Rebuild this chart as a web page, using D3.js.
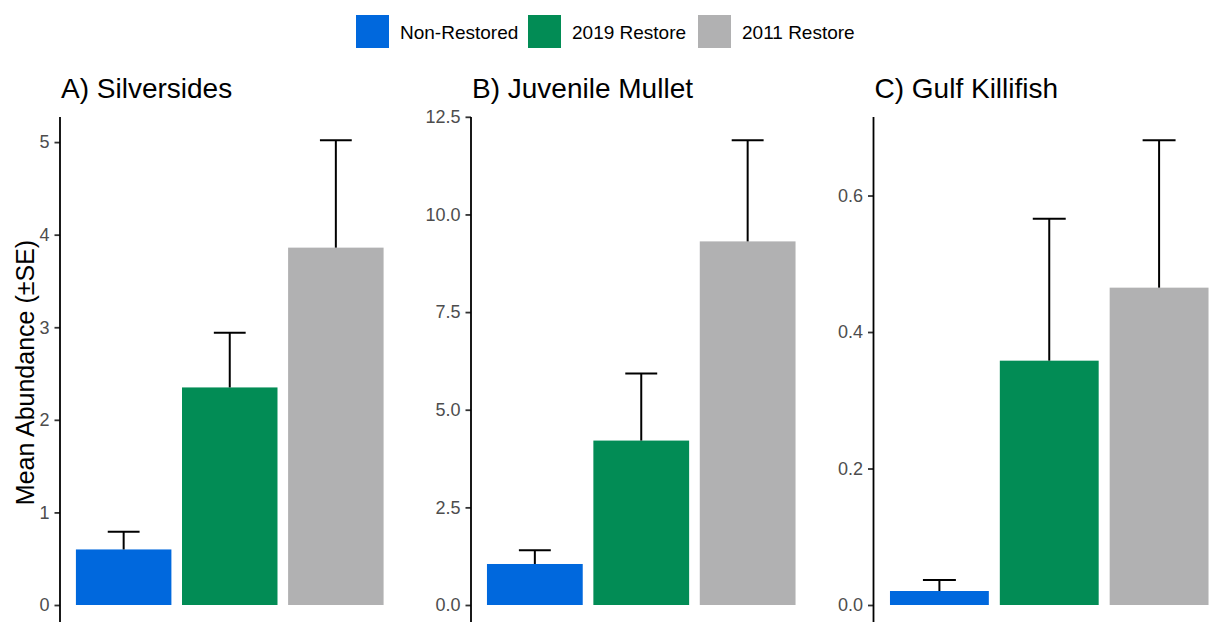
<!DOCTYPE html>
<html>
<head>
<meta charset="utf-8">
<script src="https://cdn.jsdelivr.net/npm/d3@7"></script>
<style>
  html, body { margin: 0; padding: 0; background: #fff; }
  svg { display: block; font-family: "Liberation Sans", Arial, sans-serif; }
</style>
</head>
<body>
<svg id="chart" width="1219" height="622"></svg>
<script>
// Sites compared in every panel
const sites = ["Non-Restored", "2019 Restore", "2011 Restore"];
const siteColors = ["#0068DD", "#028C55", "#B1B1B2"];

// Panel titles
const titles = ["A) Silversides", "B) Juvenile Mullet", "C) Gulf Killifish"];

// Mean abundance per site, and standard error
const silversidesMean = [0.60, 2.35, 3.86];
const silversidesSE   = [0.19, 0.59, 1.16];
const mulletMean      = [1.05, 4.21, 9.31];
const mulletSE        = [0.35, 1.72, 2.59];
const killifishMean   = [0.0205, 0.358, 0.465];
const killifishSE     = [0.016, 0.208, 0.216];

// Tick values for each panel's y axis
const silversidesTicks = [0, 1, 2, 3, 4, 5];
const mulletTicks      = [0, 2.5, 5, 7.5, 10, 12.5];
const killifishTicks   = [0, 0.2, 0.4, 0.6];

const panels = [
  { title: titles[0], mean: silversidesMean, se: silversidesSE, ticks: silversidesTicks, fmt: d3.format("d"),   x0: 60,  x1: 399.5 },
  { title: titles[1], mean: mulletMean,      se: mulletSE,      ticks: mulletTicks,      fmt: d3.format(".1f"), x0: 471, x1: 811.5 },
  { title: titles[2], mean: killifishMean,   se: killifishSE,   ticks: killifishTicks,   fmt: d3.format(".1f"), x0: 873.5, x1: 1225 }
];

const svg = d3.select("#chart");
const zeroY = 605, topY = 117, bottomY = 640;

panels.forEach(p => {
  const g = svg.append("g");
  const x = d3.scaleBand().domain(sites).range([p.x0, p.x1]).paddingInner(0.1).paddingOuter(0.15);
  const tops = p.mean.map((m, i) => m + p.se[i]);
  const hi = d3.max(tops) * 1.05;
  const y = d3.scaleLinear().domain([0, hi]).range([zeroY, topY]);

  // bars
  g.selectAll("rect.bar").data(sites).join("rect")
    .attr("class", "bar")
    .attr("x", d => x(d))
    .attr("width", x.bandwidth())
    .attr("y", (d, i) => y(p.mean[i]))
    .attr("height", (d, i) => y(0) - y(p.mean[i]))
    .attr("fill", (d, i) => siteColors[i]);

  // upper error bars
  const capW = x.step() * 0.3;
  sites.forEach((s, i) => {
    const cx = x(s) + x.bandwidth() / 2;
    g.append("line").attr("x1", cx).attr("x2", cx)
      .attr("y1", y(p.mean[i])).attr("y2", y(tops[i]))
      .attr("stroke", "#000").attr("stroke-width", 2);
    g.append("line").attr("x1", cx - capW / 2).attr("x2", cx + capW / 2)
      .attr("y1", y(tops[i])).attr("y2", y(tops[i]))
      .attr("stroke", "#000").attr("stroke-width", 2);
  });

  // y axis
  const axis = g.append("g").attr("transform", `translate(${p.x0},0)`)
    .call(d3.axisLeft(y).tickValues(p.ticks).tickFormat(p.fmt).tickSize(5.5).tickPadding(5));
  axis.select(".domain").remove();
  axis.selectAll(".tick line").attr("stroke", "#333").attr("stroke-width", 1.8);
  axis.selectAll(".tick text").attr("fill", "#4D4D4D").style("font-size", "18px")
    .style("font-family", "'Liberation Sans', Arial, sans-serif");
  g.append("line").attr("x1", p.x0).attr("x2", p.x0).attr("y1", topY).attr("y2", bottomY)
    .attr("stroke", "#000").attr("stroke-width", 1.8);

  // panel title
  g.append("text").attr("x", p.x0 + 1).attr("y", 97.5)
    .style("font-size", "28px").attr("fill", "#000").text(p.title);
});

// y axis title
svg.append("text")
  .attr("transform", `translate(33.5,${(topY + 628) / 2}) rotate(-90)`)
  .attr("text-anchor", "middle")
  .style("font-size", "25px").attr("fill", "#000")
  .text("Mean Abundance (\u00B1SE)");

// legend
const legendX = [356, 528, 698];
const legend = svg.append("g");
sites.forEach((s, i) => {
  legend.append("rect").attr("x", legendX[i]).attr("y", 15).attr("width", 33).attr("height", 33)
    .attr("fill", siteColors[i]);
  legend.append("text").attr("x", legendX[i] + 44).attr("y", 38.5)
    .style("font-size", "19px").attr("fill", "#000").text(s);
});
</script>
</body>
</html>
